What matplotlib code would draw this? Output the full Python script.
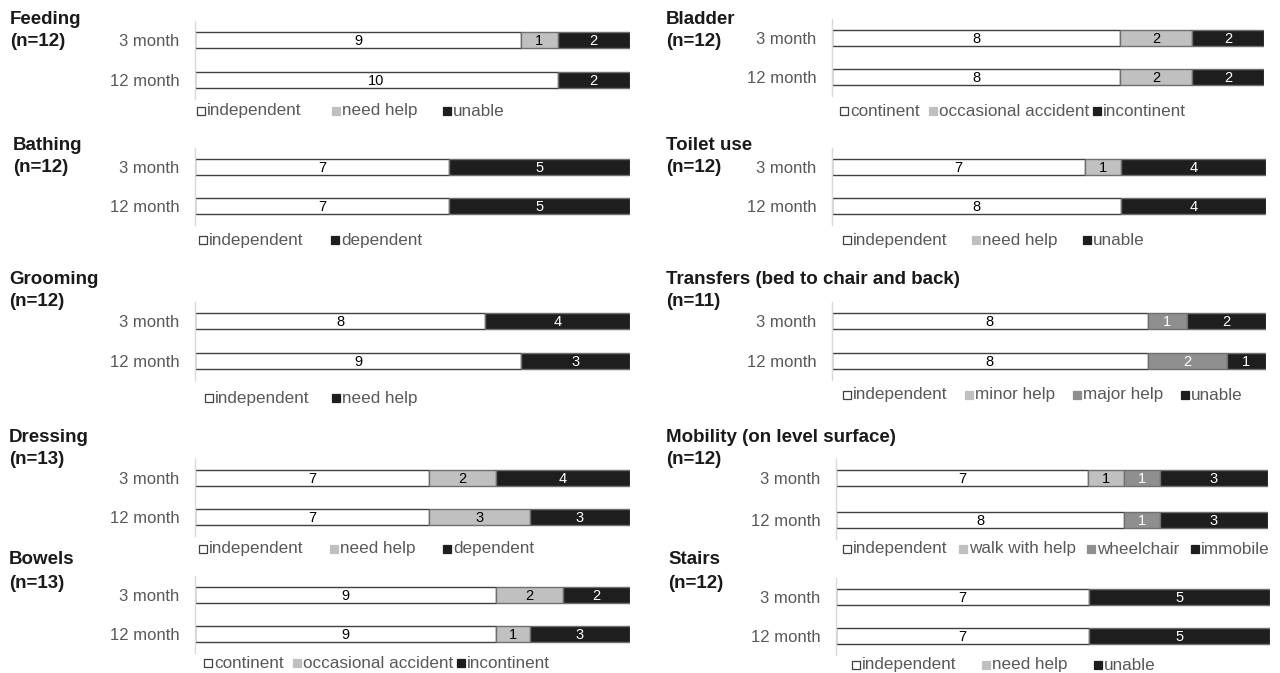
import matplotlib
matplotlib.use("Agg")
import matplotlib.pyplot as plt
from matplotlib.patches import Rectangle

plt.rcParams['font.family'] = ['Liberation Sans', 'DejaVu Sans']

# ---------------- data ----------------
periods = ["3 month", "12 month"]

feeding_title = "Feeding"
feeding_n = "(n=12)"
feeding_cats = ["independent", "need help", "unable"]
feeding_3m = [9, 1, 2]
feeding_12m = [10, 0, 2]

bathing_title = "Bathing"
bathing_n = "(n=12)"
bathing_cats = ["independent", "dependent"]
bathing_3m = [7, 5]
bathing_12m = [7, 5]

grooming_title = "Grooming"
grooming_n = "(n=12)"
grooming_cats = ["independent", "need help"]
grooming_3m = [8, 4]
grooming_12m = [9, 3]

dressing_title = "Dressing"
dressing_n = "(n=13)"
dressing_cats = ["independent", "need help", "dependent"]
dressing_3m = [7, 2, 4]
dressing_12m = [7, 3, 3]

bowels_title = "Bowels"
bowels_n = "(n=13)"
bowels_cats = ["continent", "occasional accident", "incontinent"]
bowels_3m = [9, 2, 2]
bowels_12m = [9, 1, 3]

bladder_title = "Bladder"
bladder_n = "(n=12)"
bladder_cats = ["continent", "occasional accident", "incontinent"]
bladder_3m = [8, 2, 2]
bladder_12m = [8, 2, 2]

toilet_title = "Toilet use"
toilet_n = "(n=12)"
toilet_cats = ["independent", "need help", "unable"]
toilet_3m = [7, 1, 4]
toilet_12m = [8, 0, 4]

transfers_title = "Transfers (bed to chair and back)"
transfers_n = "(n=11)"
transfers_cats = ["independent", "minor help", "major help", "unable"]
transfers_3m = [8, 0, 1, 2]
transfers_12m = [8, 0, 2, 1]

mobility_title = "Mobility (on level surface)"
mobility_n = "(n=12)"
mobility_cats = ["independent", "walk with help", "wheelchair", "immobile"]
mobility_3m = [7, 1, 1, 3]
mobility_12m = [8, 0, 1, 3]

stairs_title = "Stairs"
stairs_n = "(n=12)"
stairs_cats = ["independent", "need help", "unable"]
stairs_3m = [7, 0, 5]
stairs_12m = [7, 0, 5]

# ---------------- style ----------------
WHITE = "#ffffff"
LIGHT = "#c0c0c0"
MID = "#8f8f8f"
DARK = "#1e1e1e"
TEXT_GRAY = "#595959"

W, H = 1280, 673
fig = plt.figure(figsize=(W / 100, H / 100), dpi=100)


def fx(x):
    return x / W


def fy(y):
    return 1 - y / H


panels = [
    # title, n, cats, v3, v12, colors, x0, x1, yb1, yb2, title_x, title_y, legend_xs, legend_y
    (feeding_title, feeding_n, feeding_cats, feeding_3m, feeding_12m,
     [WHITE, LIGHT, DARK], 195, 630, 40, 80, 10, 19, [197, 332, 443], 111),
    (bathing_title, bathing_n, bathing_cats, bathing_3m, bathing_12m,
     [WHITE, DARK], 195, 630, 167, 206, 13, 145, [199, 331], 240),
    (grooming_title, grooming_n, grooming_cats, grooming_3m, grooming_12m,
     [WHITE, DARK], 195, 630, 321, 361, 9, 279, [205, 332], 398),
    (dressing_title, dressing_n, dressing_cats, dressing_3m, dressing_12m,
     [WHITE, LIGHT, DARK], 195, 630, 478, 517, 9, 437, [199, 330, 443], 549),
    (bowels_title, bowels_n, bowels_cats, bowels_3m, bowels_12m,
     [WHITE, LIGHT, DARK], 195, 630, 595, 634, 9, 560, [204, 293, 457], 663),
    (bladder_title, bladder_n, bladder_cats, bladder_3m, bladder_12m,
     [WHITE, LIGHT, DARK], 832, 1264, 38, 77, 666, 19, [840, 929, 1093], 111),
    (toilet_title, toilet_n, toilet_cats, toilet_3m, toilet_12m,
     [WHITE, LIGHT, DARK], 832, 1266, 167, 206, 666, 145, [843, 972, 1083], 240),
    (transfers_title, transfers_n, transfers_cats, transfers_3m, transfers_12m,
     [WHITE, LIGHT, MID, DARK], 832, 1266, 321, 361, 666, 279, [843, 965, 1073, 1181], 395),
    (mobility_title, mobility_n, mobility_cats, mobility_3m, mobility_12m,
     [WHITE, LIGHT, MID, DARK], 836, 1268, 478, 520, 666, 437, [843, 959, 1087, 1191], 549),
    (stairs_title, stairs_n, stairs_cats, stairs_3m, stairs_12m,
     [WHITE, LIGHT, DARK], 836, 1270, 597, 636, 668, 560, [852, 982, 1094], 665),
]

for (title, n, cats, v3, v12, colors, x0, x1, yb1, yb2,
     tx, ty, lxs, ly) in panels:
    sp = yb2 - yb1
    top = yb1 - 19
    bottom = yb2 + 19
    ax = fig.add_axes([fx(x0), fy(bottom), (x1 - x0) / W, (bottom - top) / H])
    total = sum(v3)
    ax.set_xlim(0, total)
    ax.set_ylim(1 + 19 / sp, -19 / sp)
    bh = 16 / sp
    for row, vals in enumerate([v3, v12]):
        left = 0
        for v, c in zip(vals, colors):
            if v > 0:
                ec = "#404040" if c == WHITE else "#6f6f6f"
                ax.barh(row, v, left=left, height=bh, color=c,
                        edgecolor=ec, linewidth=1.0)
                tc = "white" if c in (DARK, MID) else "black"
                ax.text(left + v / 2, row + 0.02, str(v), ha="center",
                        va="center", fontsize=10.5, color=tc)
            left += v
    ax.set_yticks([0, 1])
    ax.set_yticklabels(periods, fontsize=12, color=TEXT_GRAY)
    ax.tick_params(axis="y", length=0, pad=11)
    ax.set_xticks([])
    for s in ("top", "right", "bottom"):
        ax.spines[s].set_visible(False)
    ax.spines["left"].set_color("#d9d9d9")
    ax.spines["left"].set_linewidth(1.0)
    ax.patch.set_alpha(0)

    fig.text(fx(tx), fy(ty), title, fontsize=13.5, fontweight="bold",
             ha="left", va="center", color="#1a1a1a")
    fig.text(fx(tx), fy(ty + 23), n, fontsize=13.5, fontweight="bold",
             ha="left", va="center", color="#1a1a1a")

    for lx, cat, c in zip(lxs, cats, colors):
        sq = Rectangle((fx(lx), fy(ly + 4)), 8 / W, 8 / H,
                       transform=fig.transFigure, facecolor=c,
                       edgecolor="#404040" if c == WHITE else c,
                       linewidth=0.9)
        fig.add_artist(sq)
        fig.text(fx(lx + 10), fy(ly), cat, fontsize=12.3, color=TEXT_GRAY,
                 ha="left", va="center")

fig.savefig("out.png", dpi=100)
